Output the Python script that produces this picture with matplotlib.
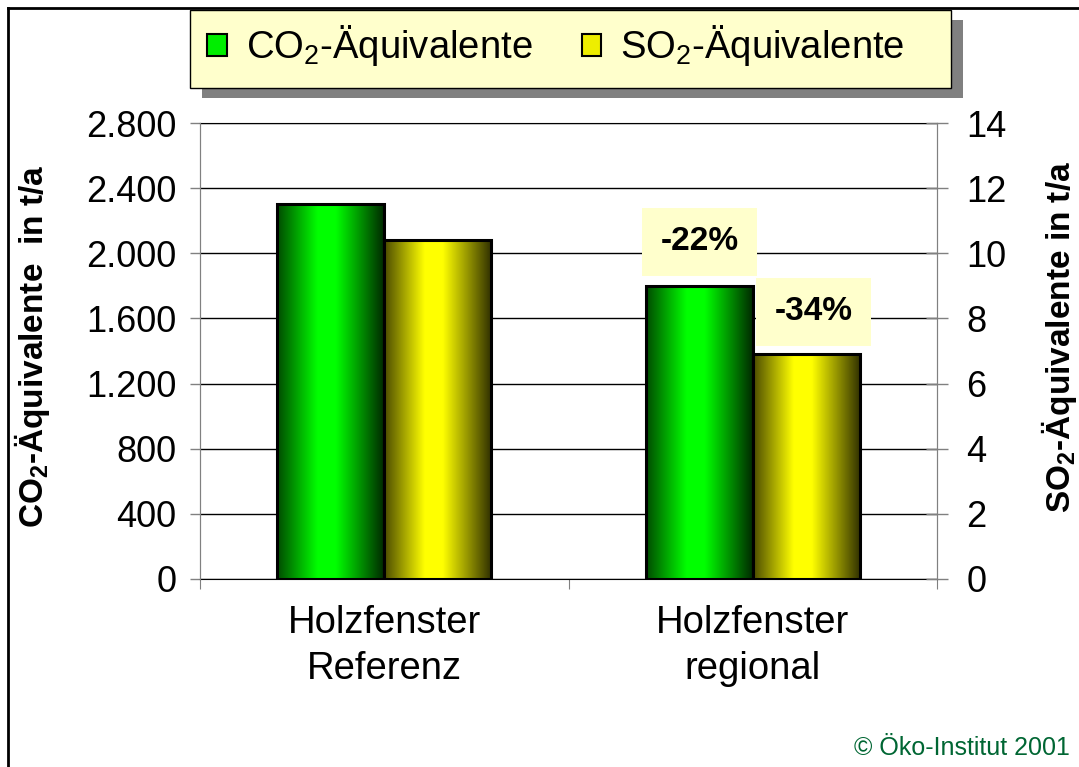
import numpy as np
import matplotlib
matplotlib.use("Agg")
import matplotlib.pyplot as plt
from matplotlib.patches import Rectangle, Patch
from matplotlib.lines import Line2D
from matplotlib.colors import LinearSegmentedColormap
from matplotlib.ticker import FixedLocator, FuncFormatter

plt.rcParams['font.family'] = ['Liberation Sans', 'DejaVu Sans']
plt.rcParams['mathtext.fontset'] = 'custom'
plt.rcParams['mathtext.rm'] = 'Liberation Sans'
plt.rcParams['mathtext.bf'] = 'Liberation Sans:bold'

# data
categories = ['Holzfenster\nReferenz', 'Holzfenster\nregional']
co2 = [2300, 1800]        # t/a, left axis
so2 = [10.4, 6.9]         # t/a, right axis
changes = ['-22%', '-34%']
series = [r'CO$_2$-Äquivalente', r'SO$_2$-Äquivalente']

# gradient colours across each bar (left -> right)
green_grad = LinearSegmentedColormap.from_list(
    'g', [(0, '#004a00'), (0.38, '#00ff00'), (0.55, '#00ff00'), (1, '#002a00')])
yellow_grad = LinearSegmentedColormap.from_list(
    'y', [(0, '#4a4a00'), (0.38, '#ffff00'), (0.55, '#ffff00'), (1, '#333300')])

fig = plt.figure(figsize=(10.79, 7.67), dpi=100)
ax = fig.add_axes([200/1079, 1 - 579/767, 737/1079, 456/767])
ax2 = ax.twinx()

x = np.arange(len(categories)) + 0.5
w = 0.29
grad = np.linspace(0, 1, 256).reshape(1, -1)


def gradient_bars(a, xs, vals, cmap):
    bars = a.bar(xs, vals, width=w, align='edge', facecolor='none',
                 edgecolor='black', linewidth=2.2, zorder=3)
    for b in bars:
        x0, y0 = b.get_x(), b.get_y()
        a.imshow(grad, cmap=cmap, aspect='auto', zorder=2,
                 extent=(x0, x0 + b.get_width(), y0, y0 + b.get_height()))
    return bars


gradient_bars(ax, x - w, co2, green_grad)
gradient_bars(ax2, x, so2, yellow_grad)

ax.set_xlim(0, 2)
ax.set_ylim(0, 2800)
ax2.set_ylim(0, 14)

# left axis
ax.set_yticks(np.arange(0, 2801, 400))
ax.yaxis.set_major_formatter(FuncFormatter(lambda v, p: f'{int(v):,}'.replace(',', '.')))
ax.tick_params(axis='y', direction='out', length=7, width=1, color='#808080',
               labelsize=26, pad=10)
ax.grid(axis='y', color='black', linewidth=1)
ax.set_axisbelow(True)

# x axis: ticks at borders, labels centred
ax.xaxis.set_major_locator(FixedLocator([0, 1, 2]))
ax.xaxis.set_minor_locator(FixedLocator(x))
ax.set_xticklabels([])
ax.set_xticklabels(categories, minor=True)
ax.tick_params(axis='x', which='major', direction='out', length=7, color='#808080')
ax.tick_params(axis='x', which='minor', length=0, labelsize=27.5, pad=19)
for t in ax.get_xticklabels(minor=True):
    t.set_linespacing(1.35)

# right axis
ax2.set_yticks(np.arange(0, 15, 2))
ax2.tick_params(axis='y', direction='inout', length=16, width=1, color='#808080',
                labelsize=26, pad=13)

for a in (ax, ax2):
    a.spines['left'].set_color('#808080')
    a.spines['right'].set_color('#808080')
    a.spines['top'].set_visible(False)
    a.spines['bottom'].set_visible(False)
ax.spines['bottom'].set_visible(True)
ax.spines['bottom'].set_color('black')
ax.spines['top'].set_visible(True)
ax.spines['top'].set_color('black')

ax.set_ylabel(r'CO$_\mathbf{2}$-Äquivalente  in t/a', fontsize=24, fontweight='bold')
ax.yaxis.set_label_coords(-0.201, 0.51)
ax2.set_ylabel(r'SO$_\mathbf{2}$-Äquivalente in t/a', fontsize=24, fontweight='bold',
               rotation=90)
ax2.yaxis.set_label_coords(1.138, 0.53)

# change labels
box = dict(boxstyle='square,pad=0.55', facecolor='#ffffcc', edgecolor='none')
ax.text(x[1] - w / 2, co2[1] + 270, changes[0], ha='center', va='center',
        fontsize=24, fontweight='bold', bbox=box, zorder=5)
ax2.text(x[1] + w / 2 + 0.02, so2[1] + 1.3, changes[1], ha='center', va='center',
         fontsize=24, fontweight='bold', bbox=box, zorder=5)

# legend with shadow
fig.patches.append(Rectangle((202/1079, 1 - 98/767), 761/1079, 78/767,
                             transform=fig.transFigure, facecolor='#808080',
                             edgecolor='none', zorder=0))
fig.patches.append(Rectangle((190/1079, 1 - 88/767), 761/1079, 78/767,
                             transform=fig.transFigure, facecolor='#ffffcc',
                             edgecolor='black', linewidth=1, zorder=1))
handles = [Patch(facecolor='#00ee00', edgecolor='black', linewidth=1.5),
           Patch(facecolor='#eeee00', edgecolor='black', linewidth=1.5)]
fig.legend(handles, series, loc='center', bbox_to_anchor=(556/1079, 1 - 46/767),
           ncol=2, frameon=False, fontsize=27.5, handlelength=0.5, handleheight=0.5,
           handletextpad=0.5, columnspacing=1.3)

# page frame
fig.add_artist(Line2D([8/1079, 1], [1 - 8/767, 1 - 8/767], color='black', linewidth=2,
                      transform=fig.transFigure))
fig.add_artist(Line2D([8/1079, 8/1079], [0, 1 - 8/767], color='black', linewidth=2,
                      transform=fig.transFigure))

fig.text(1070/1079, 1 - 748/767, '© Öko-Institut 2001', ha='right', va='center',
         fontsize=18, color='#006633')

fig.savefig('out.png', dpi=100)
